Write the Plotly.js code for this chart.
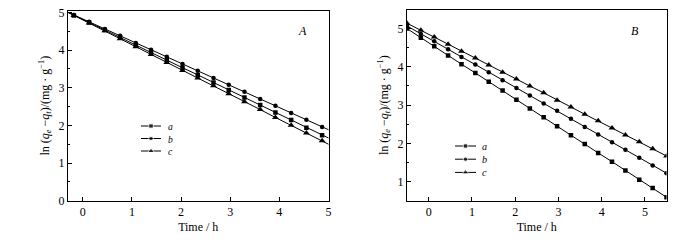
<!DOCTYPE html>
<html><head><meta charset="utf-8">
<script src="https://cdn.plot.ly/plotly-3.0.1.min.js"></script>
<style>html,body{margin:0;padding:0;background:#fff}#chart{width:700px;height:240px}</style>
</head><body><div id="chart"></div>
<script>
// Time points (h)
const timeH = [-0.5,-0.18,0.13,0.45,0.76,1.08,1.39,1.71,2.03,2.34,2.66,2.97,3.29,3.61,3.92,4.24,4.55,4.87,5.18,5.5];
const seriesNames = ['a','b','c'];
const seriesSymbols = ['square','circle','triangle-up'];
const seriesSizes = [4.5, 4.5, 6];
// Panel A: ln(qe - qt)
const panelA_a = [5.13,4.92,4.73,4.53,4.33,4.13,3.94,3.73,3.53,3.34,3.14,2.94,2.74,2.54,2.34,2.14,1.94,1.74,1.55,1.35];
const panelA_b = [5.12,4.93,4.75,4.56,4.38,4.19,4.01,3.82,3.63,3.45,3.26,3.08,2.89,2.70,2.52,2.33,2.15,1.96,1.78,1.59];
const panelA_c = [5.13,4.92,4.72,4.51,4.30,4.09,3.88,3.67,3.46,3.26,3.05,2.84,2.63,2.42,2.21,2.00,1.80,1.59,1.38,1.17];
// Panel B
const panelB_a = [5.00,4.76,4.54,4.30,4.07,3.84,3.61,3.38,3.14,2.91,2.68,2.45,2.21,1.98,1.75,1.52,1.29,1.05,0.83,0.59];
const panelB_b = [5.07,4.86,4.67,4.46,4.26,4.06,3.86,3.65,3.45,3.25,3.04,2.85,2.64,2.43,2.23,2.03,1.83,1.62,1.42,1.22];
const panelB_c = [5.14,4.96,4.78,4.59,4.41,4.23,4.05,3.86,3.68,3.50,3.32,3.13,2.95,2.76,2.59,2.40,2.22,2.04,1.86,1.67];
const xTickVals = [0,1,2,3,4,5];
const panelLabels = ['A','B'];

const FONT = 'Liberation Serif, Times New Roman, serif';
const panelA = [panelA_a, panelA_b, panelA_c];
const panelB = [panelB_a, panelB_b, panelB_c];

const traces = [];
function addPanel(data, xa, ya) {
  data.forEach((ys, i) => {
    traces.push({
      x: timeH, y: ys, xaxis: xa, yaxis: ya, type: 'scatter', mode: 'lines+markers',
      name: seriesNames[i], showlegend: false,
      line: {color: '#000', width: 1},
      marker: {symbol: seriesSymbols[i], size: seriesSizes[i], color: '#000'}
    });
  });
}
addPanel(panelA, 'x', 'y');
addPanel(panelB, 'x2', 'y2');

// custom compact legends (pixel overlay axes)
const legends = [
  {x0: 141, x1: 161, tx: 166, top: 126, gap: 12.5},
  {x0: 455, x1: 476, tx: 480, top: 146, gap: 13.2}
];
const annotations = [];
legends.forEach(lg => {
  seriesNames.forEach((nm, i) => {
    const yy = lg.top + i * lg.gap;
    traces.push({
      x: [lg.x0, (lg.x0 + lg.x1) / 2, lg.x1], y: [yy, yy, yy], xaxis: 'x3', yaxis: 'y3',
      type: 'scatter', mode: 'lines+markers', showlegend: false, hoverinfo: 'skip',
      line: {color: '#000', width: 1},
      marker: {symbol: seriesSymbols[i], size: [0, seriesSizes[i], 0], color: '#000'}
    });
  });
  annotations.push({
    xref: 'x3', yref: 'y3', x: lg.tx, y: lg.top + lg.gap, xanchor: 'left', yanchor: 'middle', align: 'left',
    text: seriesNames.map(n => '<i>' + n + '</i>').join('<br>'), showarrow: false,
    font: {family: FONT, size: lg.gap / 1.3, color: '#000'}
  });
});
annotations.push({xref: 'paper', yref: 'paper', x: 302/700, y: 1 - 31/240, text: '<i>' + panelLabels[0] + '</i>',
  showarrow: false, xanchor: 'center', yanchor: 'middle', font: {family: FONT, size: 12, color: '#000'}});
annotations.push({xref: 'paper', yref: 'paper', x: 635/700, y: 1 - 31/240, text: '<i>' + panelLabels[1] + '</i>',
  showarrow: false, xanchor: 'center', yanchor: 'middle', font: {family: FONT, size: 12, color: '#000'}});

const yTitle = 'ln (<i>q</i><sub><i>e</i></sub> −<i>q</i><sub><i>t</i></sub>)/(mg · g<sup>−1</sup>)';
function xAxis(domain, range, anchor) {
  return {domain, range, anchor, tickvals: xTickVals, ticks: 'inside', ticklen: 4, tickcolor: '#000',
    showline: true, mirror: true, linecolor: '#000', linewidth: 1, showgrid: false, zeroline: false,
    tickfont: {family: FONT, size: 12, color: '#000'},
    title: {text: 'Time / h', standoff: 4, font: {family: FONT, size: 12, color: '#000'}}};
}
function yAxis(domain, range, anchor) {
  return {domain, range, anchor, dtick: 1, tick0: 0, ticks: 'inside', ticklen: 4, tickcolor: '#000',
    minor: {dtick: 0.5, ticks: 'inside', ticklen: 2, tickcolor: '#000'},
    showline: true, mirror: true, linecolor: '#000', linewidth: 1, showgrid: false, zeroline: false,
    tickfont: {family: FONT, size: 12, color: '#000'},
    title: {text: yTitle, standoff: 6, font: {family: FONT, size: 12, color: '#000'}}};
}

const layout = {
  width: 700, height: 240, margin: {l: 0, r: 0, t: 0, b: 0},
  paper_bgcolor: '#fff', plot_bgcolor: 'rgba(0,0,0,0)', showlegend: false,
  xaxis: xAxis([68/700, 328.5/700], [-0.3, 5], 'y'),
  yaxis: yAxis([1 - 200.7/240, 1 - 10.5/240], [0, 5.05], 'x'),
  xaxis2: xAxis([407/700, 666.5/700], [-0.5, 5.5], 'y2'),
  yaxis2: yAxis([1 - 200.7/240, 1 - 9.5/240], [0.5, 5.5], 'x2'),
  xaxis3: {domain: [0, 1], range: [0, 700], anchor: 'y3', visible: false, fixedrange: true},
  yaxis3: {domain: [0, 1], range: [240, 0], anchor: 'x3', visible: false, fixedrange: true},
  annotations
};
Plotly.newPlot('chart', traces, layout, {staticPlot: true, displayModeBar: false});
</script></body></html>
